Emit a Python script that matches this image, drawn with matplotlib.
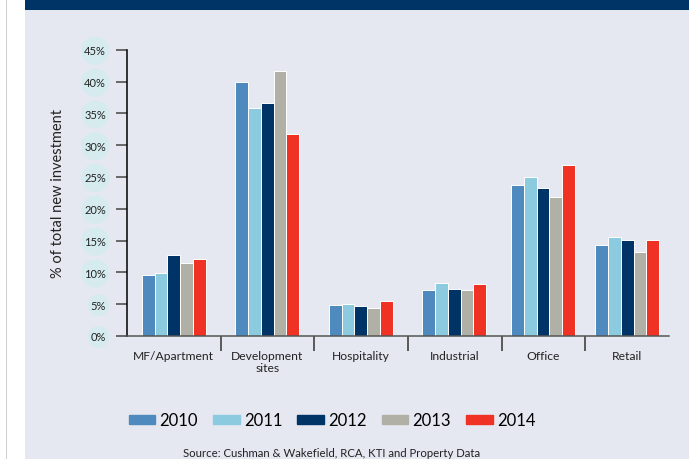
import matplotlib.pyplot as plt
import matplotlib.patches as mpatches
import numpy as np

categories = ['MF/Apartment', 'Development\nsites', 'Hospitality', 'Industrial', 'Office', 'Retail']
years = ['2010', '2011', '2012', '2013', '2014']
v2010 = [9.6, 40.0, 4.8, 7.2, 23.7, 14.3]
v2011 = [9.9, 35.9, 5.0, 8.3, 25.0, 15.5]
v2012 = [12.7, 36.6, 4.7, 7.4, 23.2, 15.1]
v2013 = [11.4, 41.6, 4.4, 7.2, 21.8, 13.2]
v2014 = [12.1, 31.7, 5.5, 8.1, 26.9, 15.1]
series = [v2010, v2011, v2012, v2013, v2014]
colors = ['#4f8abf', '#8ccbdf', '#003466', '#b0b0a6', '#ef3224']
yticks = [0, 5, 10, 15, 20, 25, 30, 35, 40, 45]

plt.rcParams.update({"font.family": ["Lato", "DejaVu Sans"]})

W, H = 689, 460
fig = plt.figure(figsize=(W / 100, H / 100), dpi=100)
fig.patch.set_facecolor('white')

# page background, top band and left rule
fig.patches.append(mpatches.Rectangle((25 / W, 0), 1, 1, transform=fig.transFigure,
                                      facecolor='#e6e8f1', edgecolor='none', zorder=-10))
fig.patches.append(mpatches.Rectangle((25 / W, 1 - 11 / H), 1, 11 / H, transform=fig.transFigure,
                                      facecolor='#003466', edgecolor='none', zorder=-9))
fig.patches.append(mpatches.Rectangle((6 / W, 0), 1.2 / W, 1, transform=fig.transFigure,
                                      facecolor='#cfcfcf', edgecolor='none', zorder=-9))

x0, x1, ybot, ytop = 127, 669, 337, 50.7
ax = fig.add_axes([x0 / W, 1 - ybot / H, (x1 - x0) / W, (ybot - ytop) / H])
ax.set_facecolor('none')
ax.set_zorder(5)

cell = 93.5
centers = np.array([0.5, 1.5, 2.5, 3.5, 4.45, 5.35])
bw = 12.8 / cell
for i, (vals, c, yr) in enumerate(zip(series, colors, years)):
    ax.bar(centers + (i - 2) * bw, vals, width=bw, color=c, edgecolor='white',
           linewidth=0.7, label=yr, zorder=2)

ax.set_xlim(0, (x1 - x0) / cell)
ax.set_ylim(0, 45)

for s in ['top', 'right']:
    ax.spines[s].set_visible(False)
ax.spines['left'].set_color('black')
ax.spines['left'].set_linewidth(1.1)
ax.spines['bottom'].set_color('#555555')
ax.spines['bottom'].set_linewidth(1.1)
ax.spines['bottom'].set_zorder(3)

ax.set_yticks(yticks)
ax.set_yticklabels([f'{t}%' for t in yticks], fontsize=8, color='#222222')
ax.tick_params(axis='y', length=8, width=1.1, color='#444444', pad=7)
for lab in ax.get_yticklabels():
    lab.set_bbox(dict(boxstyle='circle,pad=0.3', facecolor='#d6ebef', edgecolor='none'))

ax.set_xticks(centers)
ax.set_xticklabels(categories, fontsize=8.7, color='#222222', linespacing=1.1)
ax.tick_params(axis='x', length=0, pad=10)
ax.set_xticks([1, 2, 3, 4.01, 4.9], minor=True)
ax.tick_params(axis='x', which='minor', length=11, width=1.1, color='#333333')

ax.set_ylabel('% of total new investment', fontsize=10.5, color='#222222', labelpad=14)

handles = [mpatches.Patch(color=c) for c in colors]
fig.legend(handles, years, loc='center', bbox_to_anchor=(332 / W, 1 - 421.5 / H), ncol=5,
           frameon=False, fontsize=12, handlelength=1.6, handleheight=0.5,
           handletextpad=0.25, columnspacing=0.9)

fig.text(332 / W, 1 - 454 / H, 'Source: Cushman & Wakefield, RCA, KTI and Property Data',
         ha='center', va='center', fontsize=8.2, color='#222222')

fig.savefig('out.png', dpi=100)
